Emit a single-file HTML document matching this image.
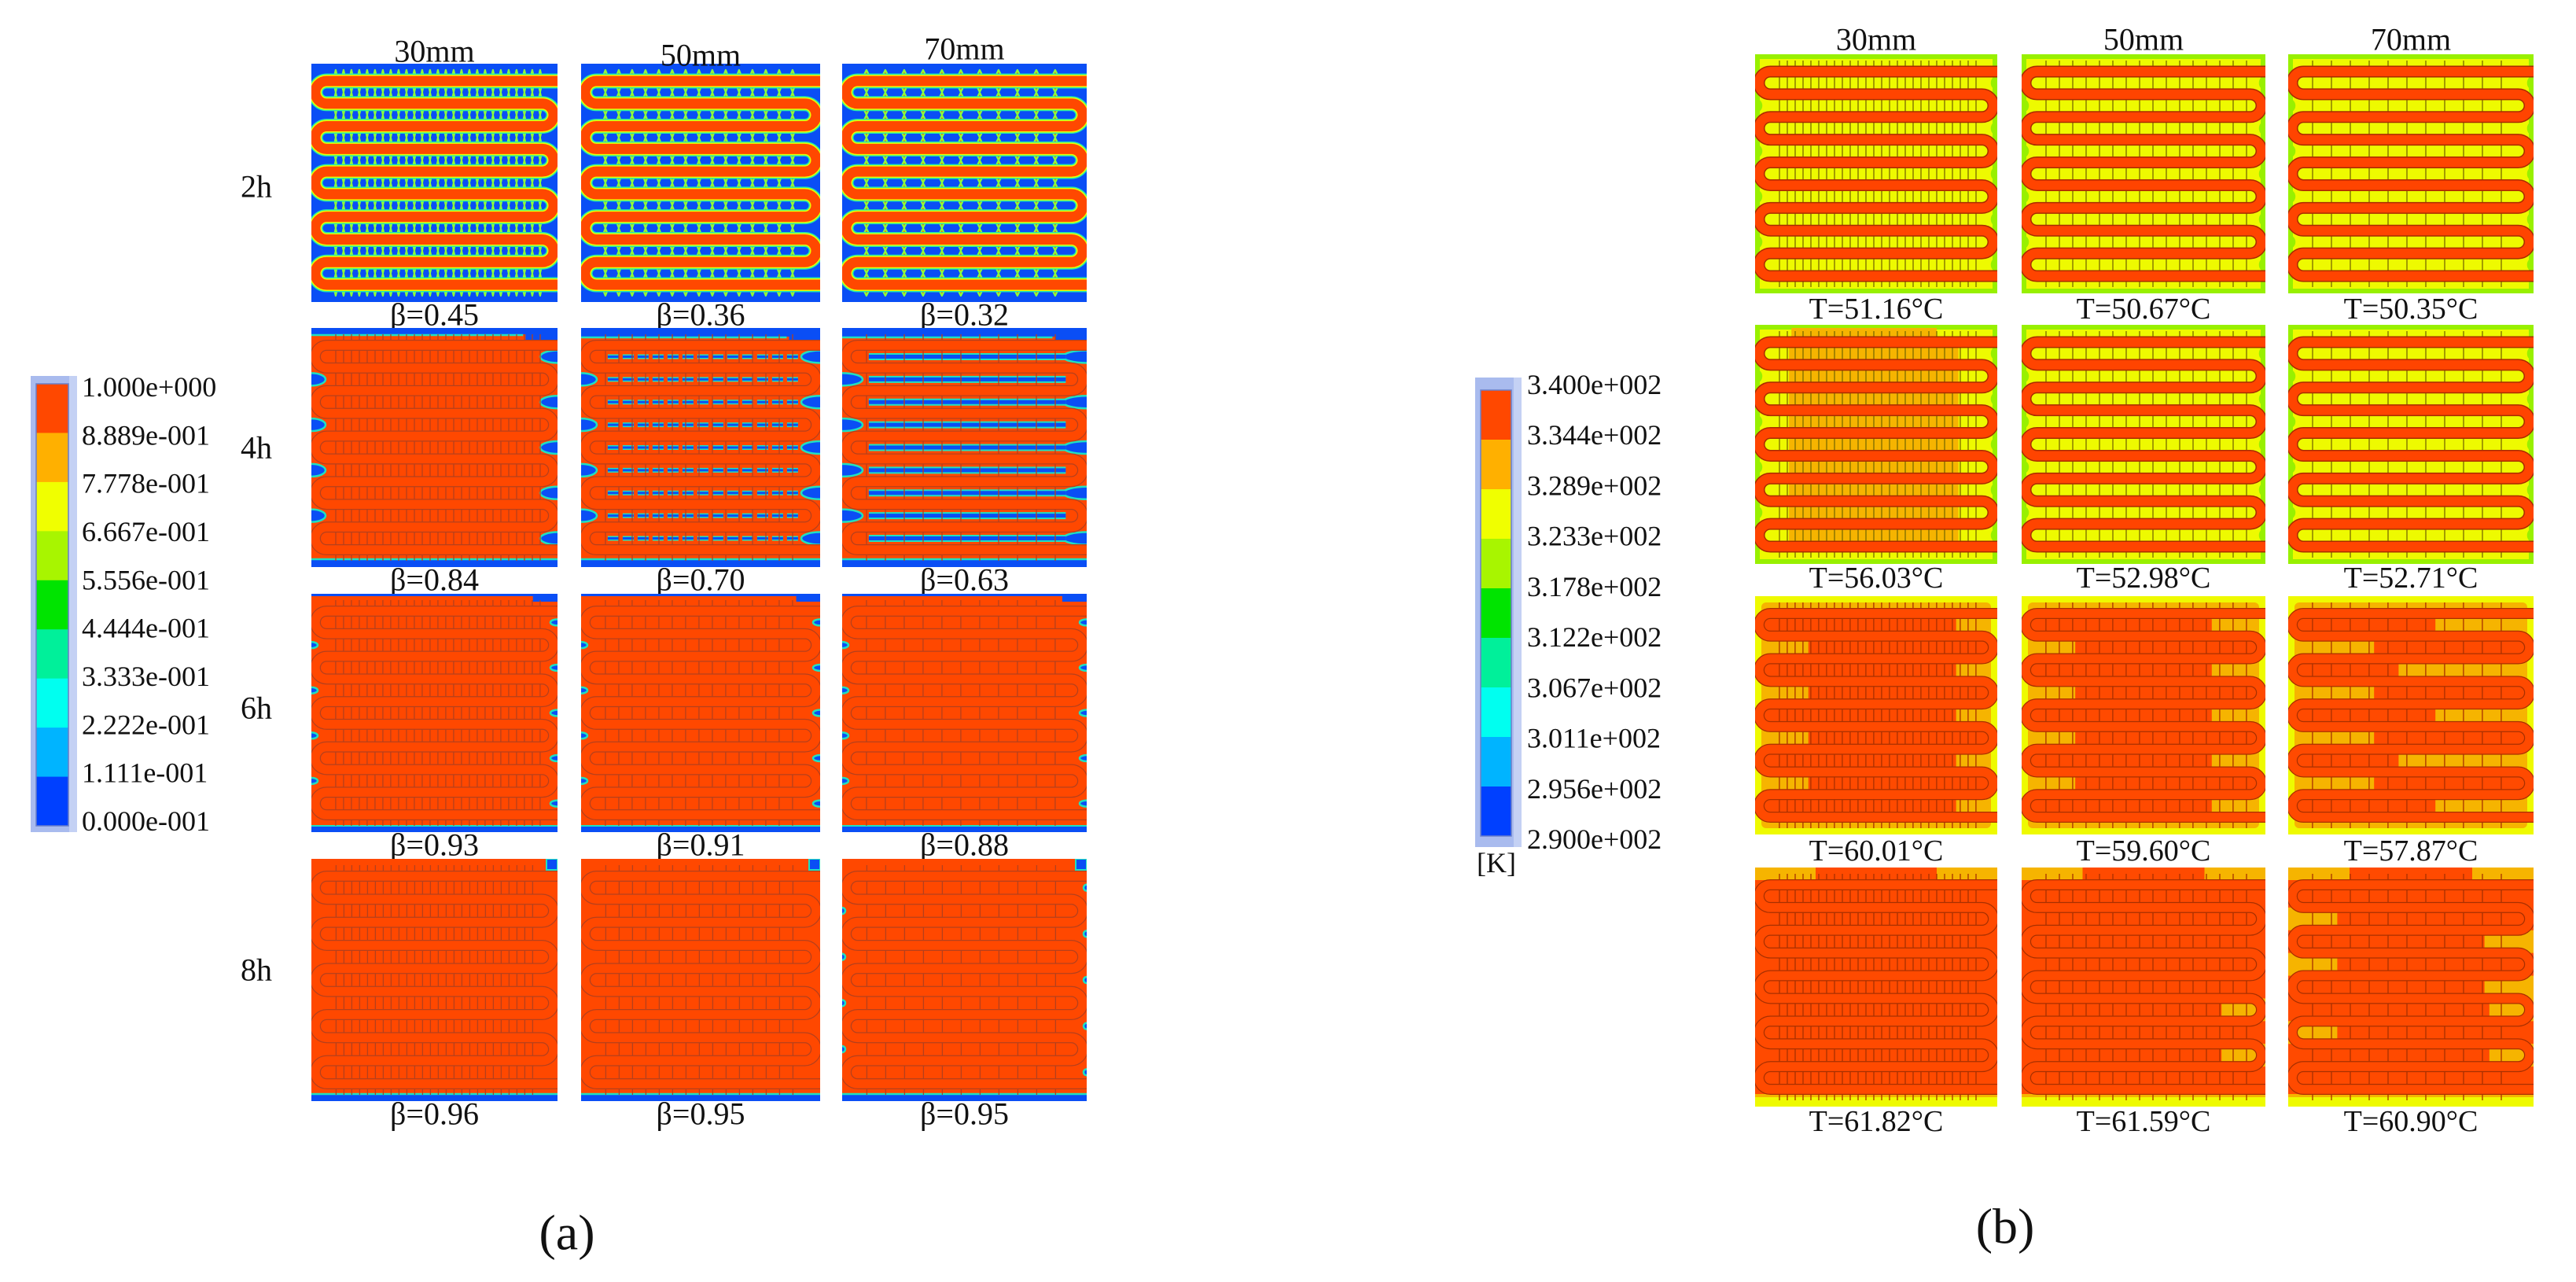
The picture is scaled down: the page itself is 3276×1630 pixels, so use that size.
<!DOCTYPE html>
<html><head><meta charset="utf-8">
<style>
html,body{margin:0;padding:0;background:#fff;}
svg{display:block;}
text{font-family:"Liberation Serif","DejaVu Serif",serif;fill:#111;}
</style></head>
<body>
<svg id="fig" width="3276" height="1630" viewBox="0 0 3276 1630" xmlns="http://www.w3.org/2000/svg"></svg>
<script>
// ---- data ----
const widthLabels = ["30mm","50mm","70mm"];
const timeLabels = ["2h","4h","6h","8h"];
const betaValues = [[0.45,0.36,0.32],[0.84,0.70,0.63],[0.93,0.91,0.88],[0.96,0.95,0.95]];
const tempValues = [[51.16,50.67,50.35],[56.03,52.98,52.71],[60.01,59.60,57.87],[61.82,61.59,60.90]];
const fracTicks = ["1.000e+000","8.889e-001","7.778e-001","6.667e-001","5.556e-001","4.444e-001","3.333e-001","2.222e-001","1.111e-001","0.000e-001"];
const tempTicks = ["3.400e+002","3.344e+002","3.289e+002","3.233e+002","3.178e+002","3.122e+002","3.067e+002","3.011e+002","2.956e+002","2.900e+002"];
const levelColors = ["#ff4800","#ffb000","#f0ff00","#a8f500","#00e400","#00f09a","#00fff0","#00b4ff","#0040ff"];

// ---- geometry ----
const NS = "http://www.w3.org/2000/svg";
const svg = document.getElementById("fig");
const aColX=[396,739,1071], aColW=[313,304,311], aRowY=[81,417,755,1092], aRowH=[303,304,303,308];
const bColX=[2232,2571,2910], bColW=[308,310,312], bRowY=[69,413,758,1103], bRowH=[304,304,303,304];
const finPitch=[10,17,24];
const BLUE="#0a4ef5", OR="#ff4800", YEL="#eefa00", ORG="#f6b400", RED="#ff4a00";
let clipId=0;

function geom(x,y,w,h){
  const inset=5, top=y+22, bot=y+h-22, sp=(bot-top)/9, r=sp/2;
  const xl=x+inset+r, xr=x+w-inset-r;
  const runs=[]; for(let i=0;i<10;i++) runs.push(top+i*sp);
  let d=`M${x+w},${top} H${xl}`;
  for(let i=0;i<9;i++){
    const yn=runs[i+1];
    if(i%2===0){ d+=` A${r},${r} 0 0 0 ${xl},${yn} H${i===8?x+w:xr}`; }
    else { d+=` A${r},${r} 0 0 1 ${xr},${yn} H${xl}`; }
  }
  return {x,y,w,h,top,bot,sp,r,xl,xr,runs,d};
}
function finXs(g,p){ const a=[]; for(let fx=g.xl+g.r*0.8; fx<g.xr-2; fx+=p) a.push(fx); return a; }
function finLines(g,p,col,extra){
  let s=""; const xs=finXs(g,p);
  for(let i=0;i<9;i++){ xs.forEach(fx=>{ s+=`<line x1="${fx}" y1="${g.runs[i]+6}" x2="${fx}" y2="${g.runs[i+1]-6}" stroke="${col}" stroke-width="1.3"/>`; }); }
  if(extra){ xs.forEach(fx=>{ s+=`<line x1="${fx}" y1="${g.top-14}" x2="${fx}" y2="${g.top-6}" stroke="${col}" stroke-width="1.3"/><line x1="${fx}" y1="${g.bot+6}" x2="${fx}" y2="${g.bot+14}" stroke="${col}" stroke-width="1.3"/>`; }); }
  return s;
}
function outlineTube(g,dark,fill){ return `<path d="${g.d}" fill="none" stroke="${dark}" stroke-width="14"/><path d="${g.d}" fill="none" stroke="${fill}" stroke-width="11.5"/>`; }
function blob(cx,cy,rx,ry,fill,edge){ return `<ellipse cx="${cx}" cy="${cy}" rx="${rx}" ry="${ry}" fill="${fill}" stroke="${edge}" stroke-width="2.5"/>`; }
function sideBlobs(g,rxL,rxR,ry,fill,edge){
  let s="";
  for(let i=0;i<9;i++){ const m=(g.runs[i]+g.runs[i+1])/2;
    if(i%2===1) s+=blob(g.x,m,rxL,ry,fill,edge); else s+=blob(g.x+g.w,m,rxR,ry,fill,edge); }
  return s;
}

// phase-fraction cell
function phaseCell(row,col,x,y,w,h){
  const g=geom(x,y,w,h), p=finPitch[col]; let s="";
  if(row===0){
    s+=`<rect x="${x}" y="${y}" width="${w}" height="${h}" fill="${BLUE}"/>`;
    const hw=Math.min(p*0.32,7);
    finXs(g,p).forEach(fx=>{ g.runs.forEach(yi=>{
      s+=`<polygon points="${fx-hw},${yi} ${fx},${yi-14} ${fx+hw},${yi}" fill="${OR}" stroke="#8cff3c" stroke-width="2.2" stroke-linejoin="round"/>`;
      s+=`<polygon points="${fx-hw},${yi} ${fx},${yi+14} ${fx+hw},${yi}" fill="${OR}" stroke="#8cff3c" stroke-width="2.2" stroke-linejoin="round"/>`;
    });});
    s+=`<path d="${g.d}" fill="none" stroke="#22e8b0" stroke-width="19"/><path d="${g.d}" fill="none" stroke="#e8ff00" stroke-width="16"/><path d="${g.d}" fill="none" stroke="${OR}" stroke-width="13"/>`;
    return s;
  }
  s+=`<rect x="${x}" y="${y}" width="${w}" height="${h}" fill="${OR}"/>`;
  const edge="#20e0c0";
  if(row===1){
    s+=`<rect x="${x}" y="${y}" width="${w}" height="${col===0?8:11}" fill="${BLUE}"/><line x1="${x}" y1="${y+(col===0?9:12)}" x2="${x+w*0.86}" y2="${y+(col===0?9:12)}" stroke="${edge}" stroke-width="2.5"/>`;
    s+=`<rect x="${x+w*0.87}" y="${y}" width="${w*0.13}" height="18" fill="${BLUE}"/>`;
    s+=`<rect x="${x}" y="${y+h-9}" width="${w}" height="9" fill="${BLUE}"/><line x1="${x}" y1="${y+h-10}" x2="${x+w}" y2="${y+h-10}" stroke="${edge}" stroke-width="2.5"/>`;
    const big=[18,20,26][col];
    s+=sideBlobs(g,big,big+4,8,BLUE,edge);
    if(col>0){
      for(let i=0;i<9;i++){ const m=(g.runs[i]+g.runs[i+1])/2;
        const w1=col===1?6:9, w2=col===1?3:5;
        s+=`<line x1="${g.xl+g.r}" y1="${m}" x2="${g.xr-g.r*0.5}" y2="${m}" stroke="${edge}" stroke-width="${w1}" ${col===1?'stroke-dasharray="14 5"':''}/>`;
        s+=`<line x1="${g.xl+g.r}" y1="${m}" x2="${g.xr-g.r*0.5}" y2="${m}" stroke="${BLUE}" stroke-width="${w2}" ${col===1?'stroke-dasharray="14 5"':''}/>`;
      }
    }
  } else if(row===2){
    s+=`<rect x="${x}" y="${y+h-7}" width="${w}" height="7" fill="${BLUE}"/><line x1="${x}" y1="${y+h-8}" x2="${x+w}" y2="${y+h-8}" stroke="${edge}" stroke-width="2"/>`;
    s+=`<rect x="${x+w*0.9}" y="${y}" width="${w*0.1}" height="10" fill="${BLUE}"/>`;
    s+=`<rect x="${x}" y="${y}" width="${w}" height="3" fill="${BLUE}"/>`;
    s+=sideBlobs(g,8,9,4,BLUE,edge);
  } else {
    s+=`<rect x="${x}" y="${y+h-8}" width="${w}" height="8" fill="${BLUE}"/><line x1="${x}" y1="${y+h-9}" x2="${x+w}" y2="${y+h-9}" stroke="${edge}" stroke-width="2.5"/>`;
    s+=`<rect x="${x+w-14}" y="${y}" width="14" height="14" fill="${BLUE}" stroke="${edge}" stroke-width="2"/>`;
    if(col===2) s+=sideBlobs(g,4,4,4,BLUE,edge);
  }
  s+=finLines(g,p,"#b5401c",true)+outlineTube(g,"#b5401c",OR);
  return s;
}

// temperature cell
function tempCell(row,col,x,y,w,h){
  const g=geom(x,y,w,h), p=finPitch[col]; let s="";
  if(row<=1){
    s+=`<rect x="${x}" y="${y}" width="${w}" height="${h}" fill="${YEL}"/>`;
    s+=`<rect x="${x+3}" y="${y+3}" width="${w-6}" height="${h-6}" fill="none" stroke="#98f000" stroke-width="6"/>`;
    for(let i=0;i<9;i++){ const m=(g.runs[i]+g.runs[i+1])/2;
      if(i%2===1) s+=blob(x,m,8,8,"#98f000","#98f000"); else s+=blob(x+w,m,7,8,"#98f000","#98f000"); }
    if(row===1 && col===0){
      for(let i=0;i<9;i++){ s+=`<rect x="${x+w*0.14}" y="${g.runs[i]+4}" width="${w*0.7}" height="${g.sp-8}" fill="${ORG}"/>`; }
      s+=`<rect x="${x+w*0.15}" y="${y+4}" width="${w*0.6}" height="12" fill="${ORG}"/>`;
    }
    s+=finLines(g,p,"#7a6a00",true);
    s+=`<path d="${g.d}" fill="none" stroke="#a82c00" stroke-width="15"/><path d="${g.d}" fill="none" stroke="#ff4400" stroke-width="12"/>`;
    return s;
  }
  if(row===2){
    s+=`<rect x="${x}" y="${y}" width="${w}" height="${h}" fill="${YEL}"/>`;
    s+=`<rect x="${x+8}" y="${y+8}" width="${w-16}" height="${h-16}" fill="${ORG}" rx="6"/>`;
    const ext=[0.83,0.78,0.62][col];
    for(let i=0;i<9;i++){
      let x0=g.xl-g.r, x1=x+w*ext;
      if(i%2===1){ x0=x+w*0.22; x1=g.xr+g.r; if(col===2) x0=x+w*0.35; }
      if(col===2 && i%2===0) x1=x+w*(i%4===0?0.6:0.45);
      s+=`<rect x="${x0}" y="${g.runs[i]}" width="${x1-x0}" height="${g.sp}" fill="${RED}"/>`;
    }
  } else {
    s+=`<rect x="${x}" y="${y}" width="${w}" height="${h}" fill="${ORG}"/>`;
    s+=`<rect x="${x}" y="${y+16}" width="${w}" height="${h-32}" fill="${RED}"/>`;
    s+=`<rect x="${x+w*0.25}" y="${y}" width="${w*0.5}" height="18" fill="${RED}"/>`;
    s+=`<rect x="${x}" y="${y+h-12}" width="${w}" height="12" fill="${YEL}"/>`;
    if(col>=1){
      for(let i=5;i<9;i+=2) s+=`<rect x="${x+w*0.82}" y="${g.runs[i]}" width="${w*0.18}" height="${g.sp}" fill="${ORG}"/>`;
    }
    if(col===2){
      [1,3,6].forEach(i=>{ s+=`<rect x="${x}" y="${g.runs[i]}" width="${w*0.2}" height="${g.sp}" fill="${ORG}"/>`; });
      [2,4].forEach(i=>{ s+=`<rect x="${x+w*0.8}" y="${g.runs[i]}" width="${w*0.2}" height="${g.sp}" fill="${ORG}"/>`; });
    }
  }
  s+=finLines(g,p,"#a83000",true)+outlineTube(g,"#a83000",RED);
  return s;
}

function clipWrap(x,y,w,h,inner){
  const id="cc"+(clipId++);
  return `<clipPath id="${id}"><rect x="${x}" y="${y}" width="${w}" height="${h}"/></clipPath><g clip-path="url(#${id})">${inner}</g>`;
}
function addText(txt,x,y,size,anchor){
  const t=document.createElementNS(NS,"text");
  t.setAttribute("x",x); t.setAttribute("y",y);
  t.setAttribute("font-size",size);
  t.setAttribute("text-anchor",anchor||"middle");
  t.setAttribute("dominant-baseline","central");
  t.textContent=txt; svg.appendChild(t); return t;
}
function addGroup(html){ const g=document.createElementNS(NS,"g"); g.innerHTML=html; svg.appendChild(g); return g; }

// ---- panel (a) ----
for(let r=0;r<4;r++) for(let c=0;c<3;c++){
  const x=aColX[c], y=aRowY[r], w=aColW[c], h=aRowH[r];
  const g=addGroup(clipWrap(x,y,w,h,phaseCell(r,c,x,y,w,h)));
  
  
  const t=addText("\u03b2="+betaValues[r][c].toFixed(2),x+w/2,y+h+16,40);
  
  
}
const aHeadY=[65,70,62];
widthLabels.forEach((l,c)=>{ const t=addText(l,aColX[c]+aColW[c]/2,aHeadY[c],40);
  
   });
const aRowLabY=[237,569,900,1233];
timeLabels.forEach((l,r)=>{ const t=addText(l,326,aRowLabY[r],40);
  
   });

// colorbars
function colorbar(ox,oy,ow,oh,ix,iy,iw,ih,ticks,lx,ly0,ly1,name){
  let s=`<rect x="${ox}" y="${oy}" width="${ow}" height="${oh}" fill="#a9bbee"/><rect x="${ox+ow-10}" y="${oy}" width="10" height="${oh}" fill="#c4d1f4"/>`;
  const seg=ih/levelColors.length;
  levelColors.forEach((col,i)=>{ s+=`<rect x="${ix}" y="${iy+i*seg}" width="${iw}" height="${seg+0.5}" fill="${col}"/>`; });
  s+=`<rect x="${ix}" y="${iy}" width="${iw}" height="${ih}" fill="none" stroke="#6a7fc8" stroke-width="1.5"/>`;
  const g=addGroup(s);
  
  
  const st=(ly1-ly0)/(ticks.length-1);
  ticks.forEach((tk,i)=>{ const t=addText(tk,lx,ly0+i*st,36,"start");
    
     });
}
colorbar(39,478,59,580,46,488,41,562,fracTicks,104,492,1044,'liquid-fraction-colorbar');

// ---- panel (b) ----
for(let r=0;r<4;r++) for(let c=0;c<3;c++){
  const x=bColX[c], y=bRowY[r], w=bColW[c], h=bRowH[r];
  const g=addGroup(clipWrap(x,y,w,h,tempCell(r,c,x,y,w,h)));
  
  
}
const bTY=[393,735,1082,1426];
for(let r=0;r<4;r++) for(let c=0;c<3;c++){
  const t=addText("T="+tempValues[r][c].toFixed(2)+"\u00b0C",bColX[c]+bColW[c]/2,bTY[r],38);
  
  
}
widthLabels.forEach((l,c)=>{ const t=addText(l,bColX[c]+bColW[c]/2,50,40);
  
   });
colorbar(1876,480,59,597,1883,496,39,567,tempTicks,1942,489,1067,'temperature-colorbar');
const kUnit=addText("[K]",1878,1097,36,"start");



const capA=addText("(a)",721,1567,64);


const capB=addText("(b)",2550,1559,64);


</script>
</body></html>
